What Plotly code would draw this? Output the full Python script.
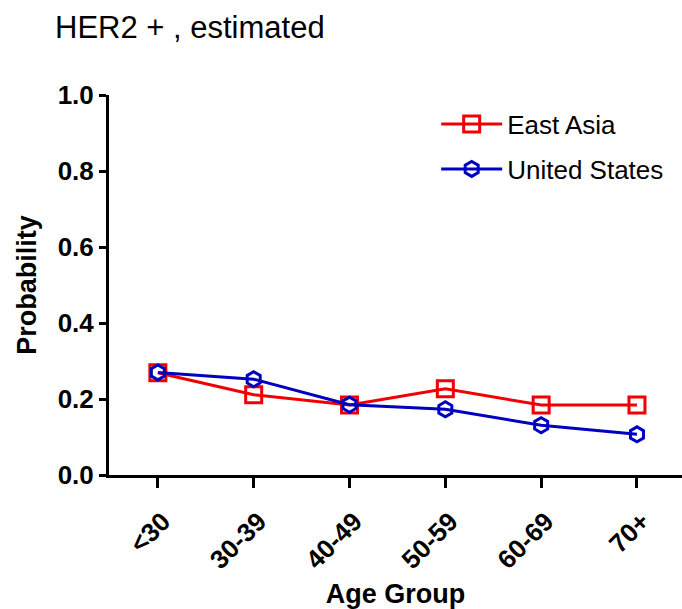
import plotly.graph_objects as go

age_groups = ["<30", "30-39", "40-49", "50-59", "60-69", "70+"]
east_asia = [0.269, 0.211, 0.184, 0.227, 0.184, 0.184]
united_states = [0.270, 0.252, 0.185, 0.173, 0.131, 0.107]
y_ticks = [0.0, 0.2, 0.4, 0.6, 0.8, 1.0]
y_tick_labels = ["0.0", "0.2", "0.4", "0.6", "0.8", "1.0"]

FONT = "Arial, Liberation Sans, sans-serif"
RED = "#f00000"
BLUE = "#0000c0"

fig = go.Figure()
fig.add_trace(go.Scatter(
    x=age_groups, y=east_asia, name="East Asia", mode="lines+markers",
    line=dict(color=RED, width=3),
    marker=dict(symbol="square-open", size=16, color=RED, line=dict(width=3, color=RED)),
    legendgroup="a",
))
fig.add_trace(go.Scatter(
    x=age_groups, y=united_states, name="United States", mode="lines+markers",
    line=dict(color=BLUE, width=3),
    marker=dict(symbol="hexagon-open", size=15, color=BLUE, line=dict(width=3, color=BLUE)),
    legendgroup="b",
))

fig.update_layout(
    width=682, height=609,
    margin=dict(l=109, r=0, t=95, b=134),
    paper_bgcolor="white", plot_bgcolor="white",
    font=dict(family=FONT, color="black"),
    title=dict(text="HER2 + , estimated", x=55/682, xanchor="left", y=1-27/609, yanchor="middle",
               font=dict(size=31, family=FONT, color="black")),
    legend=dict(x=0.571, y=0.985, xanchor="left", yanchor="top",
                font=dict(size=26, family=FONT, color="black"),
                tracegroupgap=8, bgcolor="rgba(0,0,0,0)", itemwidth=61),
    showlegend=True,
)
fig.update_xaxes(
    type="category", range=[-0.51, 5.47],
    showline=True, linecolor="black", linewidth=3,
    ticks="outside", ticklen=10, tickwidth=3, tickcolor="black",
    tickangle=-45, ticklabelstandoff=8, ticklabelshift=5,
    tickfont=dict(size=26, family=FONT, color="black", weight="bold"),
    showgrid=False, zeroline=False,
    title=dict(text="<b>Age Group</b>", font=dict(size=27, family=FONT, color="black"), standoff=14),
)
fig.update_yaxes(
    range=[0, 1], tickvals=y_ticks, ticktext=y_tick_labels,
    showline=True, linecolor="black", linewidth=3,
    ticks="outside", ticklen=7, tickwidth=3, tickcolor="black",
    tickfont=dict(size=26, family=FONT, color="black", weight="bold"),
    showgrid=False, zeroline=False,
    title=dict(text="<b>Probability</b>", font=dict(size=27, family=FONT, color="black"), standoff=14),
)

fig.write_html("out.html")
